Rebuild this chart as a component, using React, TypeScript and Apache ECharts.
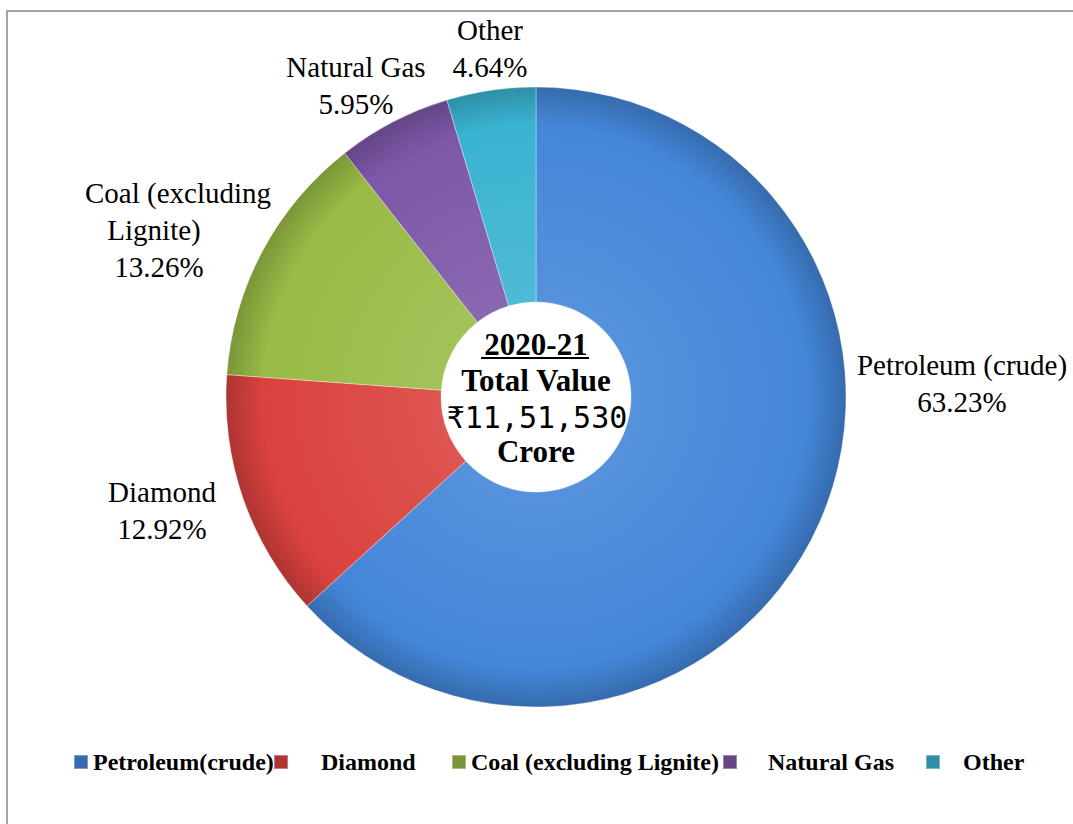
import React, { useEffect, useRef } from "react";
import * as echarts from "echarts";

const categories = ["Petroleum(crude)", "Diamond", "Coal (excluding Lignite)", "Natural Gas", "Other"];
const labelNames = ["Petroleum (crude)", "Diamond", "Coal (excluding\nLignite)", "Natural Gas", "Other"];
const shares = [63.23, 12.92, 13.26, 5.95, 4.64];
const colors = ["#4386d8", "#da423e", "#99bb46", "#7d57a8", "#3ab3d1"];
const centerLines = ["2020-21", "Total Value", "₹11,51,530", "Crore"];

const labelPos: [number, number][] = [
  [962, 383],
  [162, 510],
  [178, 230],
  [356, 85],
  [490, 48],
];
// legend entry: icon left x, text left padding
const legendLeft = [68, 268, 446, 717, 920];
const legendPad = [0, 28, 0, 26, 18];

function shade(hex: string, f: number) {
  const n = parseInt(hex.slice(1), 16);
  let r = (n >> 16) & 255, g = (n >> 8) & 255, b = n & 255;
  if (f >= 0) {
    r = Math.round(r + (255 - r) * f); g = Math.round(g + (255 - g) * f); b = Math.round(b + (255 - b) * f);
  } else {
    r = Math.round(r * (1 + f)); g = Math.round(g * (1 + f)); b = Math.round(b * (1 + f));
  }
  return `rgb(${r},${g},${b})`;
}

const serif = "'Liberation Serif', 'Times New Roman', serif";

export default function App() {
  const ref = useRef<HTMLDivElement>(null);
  useEffect(() => {
    if (!ref.current) return;
    const chart = echarts.init(ref.current, null, { renderer: "svg" });
    const cx = 536, cy = 397;
    chart.setOption({
      animation: false,
      backgroundColor: "#ffffff",
      legend: categories.map((c, i) => ({
        left: legendLeft[i],
        top: 745,
        icon: "rect",
        itemWidth: 14,
        itemHeight: 14,
        selectedMode: false,
        textStyle: { fontFamily: serif, fontWeight: "bold", fontSize: 24, color: "#000", padding: [0, 0, 0, legendPad[i]] },
        data: [c],
      })),
      series: [
        {
          type: "pie",
          center: [cx, cy],
          radius: [95, 310],
          startAngle: 90,
          clockwise: true,
          avoidLabelOverlap: false,
          labelLine: { show: false },
          label: {
            show: true,
            position: "outside",
            fontFamily: serif,
            fontSize: 29,
            lineHeight: 37,
            color: "#000",
            align: "center",
            formatter: (p: any) => {
              const lines = labelNames[p.dataIndex].split("\n");
              lines.push(shares[p.dataIndex].toFixed(2) + "%");
              if (p.dataIndex === 2) {
                return `{t|${lines[0]}}\n{s|${lines[1]}}\n{u|${lines[2]}}`;
              }
              return lines.map((l) => `{t|${l}}`).join("\n");
            },
            rich: {
              t: { fontFamily: serif, fontSize: 29, lineHeight: 37, color: "#000" },
              s: { fontFamily: serif, fontSize: 29, lineHeight: 37, color: "#000", padding: [0, 48, 0, 0] },
              u: { fontFamily: serif, fontSize: 29, lineHeight: 37, color: "#000", padding: [0, 38, 0, 0] },
            },
          },
          labelLayout: (p: any) => ({
            x: labelPos[p.dataIndex][0],
            y: labelPos[p.dataIndex][1],
            align: "center",
            verticalAlign: "middle",
          }),
          data: categories.map((c, i) => ({
            name: c,
            value: shares[i],
            itemStyle: {
              color: new echarts.graphic.RadialGradient(cx, cy, 310, [
                { offset: 0.3, color: shade(colors[i], 0.1) },
                { offset: 0.88, color: colors[i] },
                { offset: 1, color: shade(colors[i], -0.2) },
              ], true),
              borderColor: "rgba(255,255,255,0.35)",
              borderWidth: 1,
            },
          })),
        },
      ],
      graphic: [
        {
          type: "rect",
          shape: { x: 7, y: 11, width: 1200, height: 1000 },
          style: { fill: "none", stroke: "#a6a6a6", lineWidth: 2 },
          silent: true,
        },
        {
          type: "text",
          x: cx, y: 344,
          style: { text: centerLines[0], fontFamily: serif, fontWeight: "bold", fontSize: 31, fill: "#000", align: "center", verticalAlign: "middle" },
        },
        {
          type: "line",
          shape: { x1: 481, y1: 358, x2: 589, y2: 358 },
          style: { stroke: "#000", lineWidth: 2 },
        },
        {
          type: "text",
          x: cx, y: 380,
          style: { text: centerLines[1], fontFamily: serif, fontWeight: "bold", fontSize: 31, fill: "#000", align: "center", verticalAlign: "middle" },
        },
        {
          type: "text",
          x: cx + 1, y: 417,
          style: { text: centerLines[2], fontFamily: "'DejaVu Sans Mono', monospace", fontSize: 30, fill: "#000", align: "center", verticalAlign: "middle" },
        },
        {
          type: "text",
          x: cx, y: 451,
          style: { text: centerLines[3], fontFamily: serif, fontWeight: "bold", fontSize: 31, fill: "#000", align: "center", verticalAlign: "middle" },
        },
      ],
    });
    return () => chart.dispose();
  }, []);
  return <div ref={ref} style={{ position: "fixed", left: 0, top: 0, width: 1073, height: 824 }} />;
}
